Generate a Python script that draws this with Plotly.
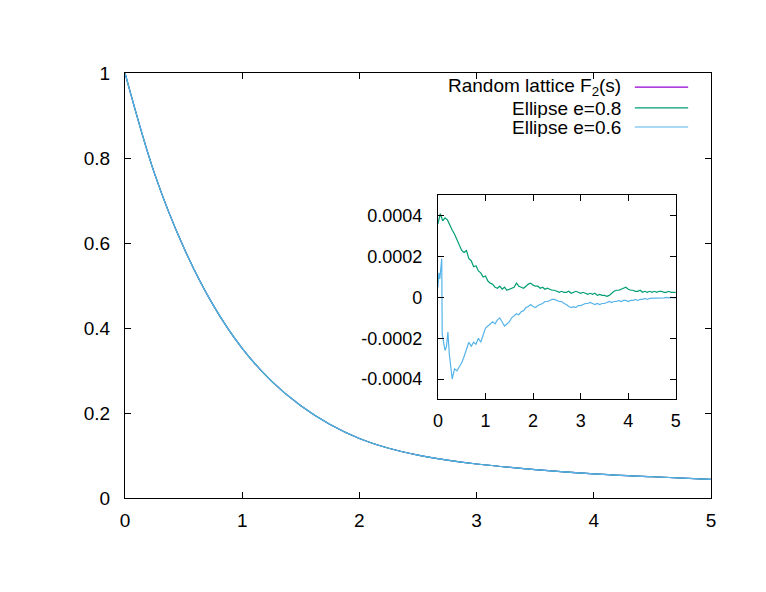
import plotly.graph_objects as go

# Main curve F2(s) (all three curves coincide at this scale)
s_main = [0.0, 0.25, 0.5, 0.75, 1.0, 1.25, 1.5, 1.75, 2.0, 2.25, 2.5, 2.75, 3.0, 3.5, 4.0, 4.5, 5.0]
f_lattice = [1.0, 0.765, 0.59, 0.455, 0.352, 0.275, 0.217, 0.173, 0.140, 0.117, 0.101, 0.089, 0.080, 0.067, 0.057, 0.050, 0.044]
f_e08 = [1.0, 0.765, 0.59, 0.455, 0.352, 0.275, 0.217, 0.173, 0.140, 0.117, 0.101, 0.089, 0.080, 0.067, 0.057, 0.050, 0.044]
f_e06 = [1.0, 0.765, 0.59, 0.455, 0.352, 0.275, 0.217, 0.173, 0.140, 0.117, 0.101, 0.089, 0.080, 0.067, 0.057, 0.050, 0.044]

# Inset: deviations (units of 1e-4)
s_green = [0.00, 0.05, 0.10, 0.15, 0.20, 0.25, 0.30, 0.35, 0.40, 0.45, 0.50, 0.55, 0.60, 0.65, 0.70,
           0.75, 0.80, 0.85, 0.90, 0.95, 1.00, 1.05, 1.10, 1.15, 1.20, 1.25, 1.30, 1.35, 1.40, 1.45,
           1.50, 1.55, 1.60, 1.65, 1.70, 1.75, 1.80, 1.85, 1.90, 1.95, 2.00, 2.05, 2.10, 2.15, 2.20,
           2.25, 2.30, 2.35, 2.40, 2.45, 2.50, 2.55, 2.60, 2.65, 2.70, 2.75, 2.80, 2.85, 2.90, 2.95,
           3.00, 3.05, 3.10, 3.15, 3.20, 3.25, 3.30, 3.35, 3.40, 3.45, 3.50, 3.55, 3.60, 3.65, 3.70,
           3.75, 3.80, 3.85, 3.90, 3.95, 4.00, 4.05, 4.10, 4.15, 4.20, 4.25, 4.30, 4.35, 4.40, 4.45,
           4.50, 4.55, 4.60, 4.65, 4.70, 4.75, 4.80, 4.85, 4.90, 4.95, 5.00]
d_green = [3.6, 4.1, 3.75, 3.9, 3.8, 3.5, 3.3, 3.1, 2.8, 2.6, 2.3, 2.2, 2.3, 1.9, 1.8,
           1.5, 1.55, 1.3, 1.2, 1.0, 1.05, 0.8, 0.7, 0.65, 0.5, 0.45, 0.55, 0.4, 0.5, 0.35,
           0.4, 0.45, 0.5, 0.7, 0.55, 0.5, 0.45, 0.55, 0.65, 0.7, 0.6, 0.55, 0.55, 0.45, 0.5,
           0.4, 0.45, 0.4, 0.35, 0.35, 0.3, 0.25, 0.3, 0.25, 0.25, 0.3, 0.2, 0.25, 0.3, 0.25,
           0.2, 0.25, 0.2, 0.15, 0.2, 0.15, 0.2, 0.1, 0.15, 0.1, 0.1, 0.05, 0.1, 0.2, 0.3,
           0.35, 0.35, 0.4, 0.45, 0.5, 0.4, 0.35, 0.35, 0.3, 0.3, 0.35, 0.25, 0.3, 0.25, 0.3,
           0.25, 0.3, 0.25, 0.3, 0.3, 0.25, 0.25, 0.3, 0.25, 0.25, 0.25]

s_blue = [0.00, 0.02, 0.04, 0.06, 0.08, 0.09, 0.12, 0.15, 0.18, 0.21, 0.24, 0.27, 0.30, 0.35, 0.40,
          0.45, 0.50, 0.55, 0.60, 0.65, 0.70, 0.75, 0.80, 0.85, 0.90, 0.95, 1.00, 1.05, 1.10, 1.15,
          1.20, 1.25, 1.30, 1.35, 1.40, 1.45, 1.50, 1.55, 1.60, 1.65, 1.70, 1.75, 1.80, 1.85, 1.90,
          1.95, 2.00, 2.05, 2.10, 2.15, 2.20, 2.25, 2.30, 2.35, 2.40, 2.45, 2.50, 2.55, 2.60, 2.65,
          2.70, 2.75, 2.80, 2.85, 2.90, 2.95, 3.00, 3.05, 3.10, 3.15, 3.20, 3.25, 3.30, 3.35, 3.40,
          3.45, 3.50, 3.55, 3.60, 3.65, 3.70, 3.75, 3.80, 3.85, 3.90, 3.95, 4.00, 4.05, 4.10, 4.15,
          4.20, 4.25, 4.30, 4.35, 4.40, 4.45, 4.50, 4.55, 4.60, 4.65, 4.70, 4.75, 4.80, 4.85, 4.90,
          4.95, 5.00]
d_blue = [0.5, 1.2, 0.9, 1.6, 1.9, -1.8, -2.2, -2.6, -2.4, -1.7, -2.8, -3.5, -4.0, -3.5, -3.6,
          -3.4, -3.2, -2.9, -2.5, -2.2, -2.4, -2.2, -2.3, -2.0, -2.2, -1.8, -1.5, -1.4, -1.3, -1.2,
          -1.3, -1.1, -1.0, -1.2, -1.4, -1.3, -1.2, -1.0, -0.9, -0.8, -0.85, -0.7, -0.65, -0.5, -0.45,
          -0.35, -0.45, -0.5, -0.4, -0.35, -0.3, -0.2, -0.2, -0.15, -0.1, -0.1, -0.15, -0.2, -0.2, -0.3,
          -0.35, -0.45, -0.5, -0.45, -0.5, -0.4, -0.4, -0.35, -0.3, -0.3, -0.25, -0.3, -0.35, -0.3, -0.35,
          -0.3, -0.3, -0.25, -0.2, -0.25, -0.2, -0.2, -0.15, -0.2, -0.15, -0.15, -0.2, -0.15, -0.15, -0.1,
          -0.15, -0.1, -0.1, -0.05, -0.1, -0.05, -0.05, -0.05, -0.05, -0.02, -0.05, -0.02, 0.0, -0.02, 0.0,
          -0.02, -0.03]

main_ticks = [0, 0.2, 0.4, 0.6, 0.8, 1.0]
main_ticktext = ["0", "0.2", "0.4", "0.6", "0.8", "1"]
inset_ticks = [-0.0004, -0.0002, 0, 0.0002, 0.0004]
inset_ticktext = ["-0.0004", "-0.0002", "0", "0.0002", "0.0004"]
x_ticks = [0, 1, 2, 3, 4, 5]

legend_names = ["Random lattice F<sub>2</sub>(s)", "Ellipse e=0.8", "Ellipse e=0.6"]
colors = ["#9400D3", "#009E73", "#56B4E9"]

FAMILY = "Liberation Sans, Arial, sans-serif"
FONT = dict(family=FAMILY, size=19, color="black")
FONT_IN = dict(family=FAMILY, size=18, color="black")

fig = go.Figure()
for ys, c in zip([f_lattice, f_e08, f_e06], colors):
    fig.add_trace(go.Scatter(x=s_main, y=ys, mode="lines", line=dict(color=c, width=1.2, shape="spline"),
                             showlegend=False, xaxis="x", yaxis="y"))

fig.add_trace(go.Scatter(x=s_green, y=[v * 1e-4 for v in d_green], mode="lines",
                         line=dict(color=colors[1], width=1.2), showlegend=False, xaxis="x2", yaxis="y2"))
fig.add_trace(go.Scatter(x=s_blue, y=[v * 1e-4 for v in d_blue], mode="lines",
                         line=dict(color=colors[2], width=1.2), showlegend=False, xaxis="x2", yaxis="y2"))

axis_common = dict(showline=True, linecolor="black", linewidth=1, mirror="allticks", ticks="inside",
                   ticklen=6, tickcolor="black", showgrid=False, zeroline=False)

fig.update_layout(
    width=766, height=592, autosize=False,
    margin=dict(l=117, r=63, t=65, b=102),
    paper_bgcolor="white", plot_bgcolor="white",
    font=FONT, showlegend=False,
    xaxis=dict(range=[0, 5], tickvals=x_ticks, domain=[0, 1], ticklabelstandoff=5,
               tickfont=FONT, **axis_common),
    yaxis=dict(range=[0, 1], tickvals=main_ticks, ticktext=main_ticktext, domain=[0, 1],
               ticklabelstandoff=10, tickfont=FONT, **axis_common),
    xaxis2=dict(range=[0, 5], tickvals=x_ticks, domain=[0.534, 0.940], anchor="y2",
                ticklabelstandoff=5, tickfont=FONT_IN, **axis_common),
    yaxis2=dict(range=[-0.0005, 0.0005], tickvals=inset_ticks, ticktext=inset_ticktext,
                domain=[0.232, 0.712], anchor="x2", ticklabelstandoff=11, tickfont=FONT_IN, **axis_common),
)

# gnuplot-style key: right-aligned text followed by a line sample
key_y = [0.967, 0.918, 0.873]
for name, c, ky in zip(legend_names, colors, key_y):
    fig.add_annotation(x=0.848, y=ky, xref="paper", yref="paper", text=name, showarrow=False,
                       xanchor="right", yanchor="middle", font=FONT, height=20, borderpad=0)
    fig.add_shape(type="line", xref="paper", yref="paper", x0=0.870, x1=0.961, y0=ky, y1=ky,
                  line=dict(color=c, width=1.2))

fig.write_html("out.html")
